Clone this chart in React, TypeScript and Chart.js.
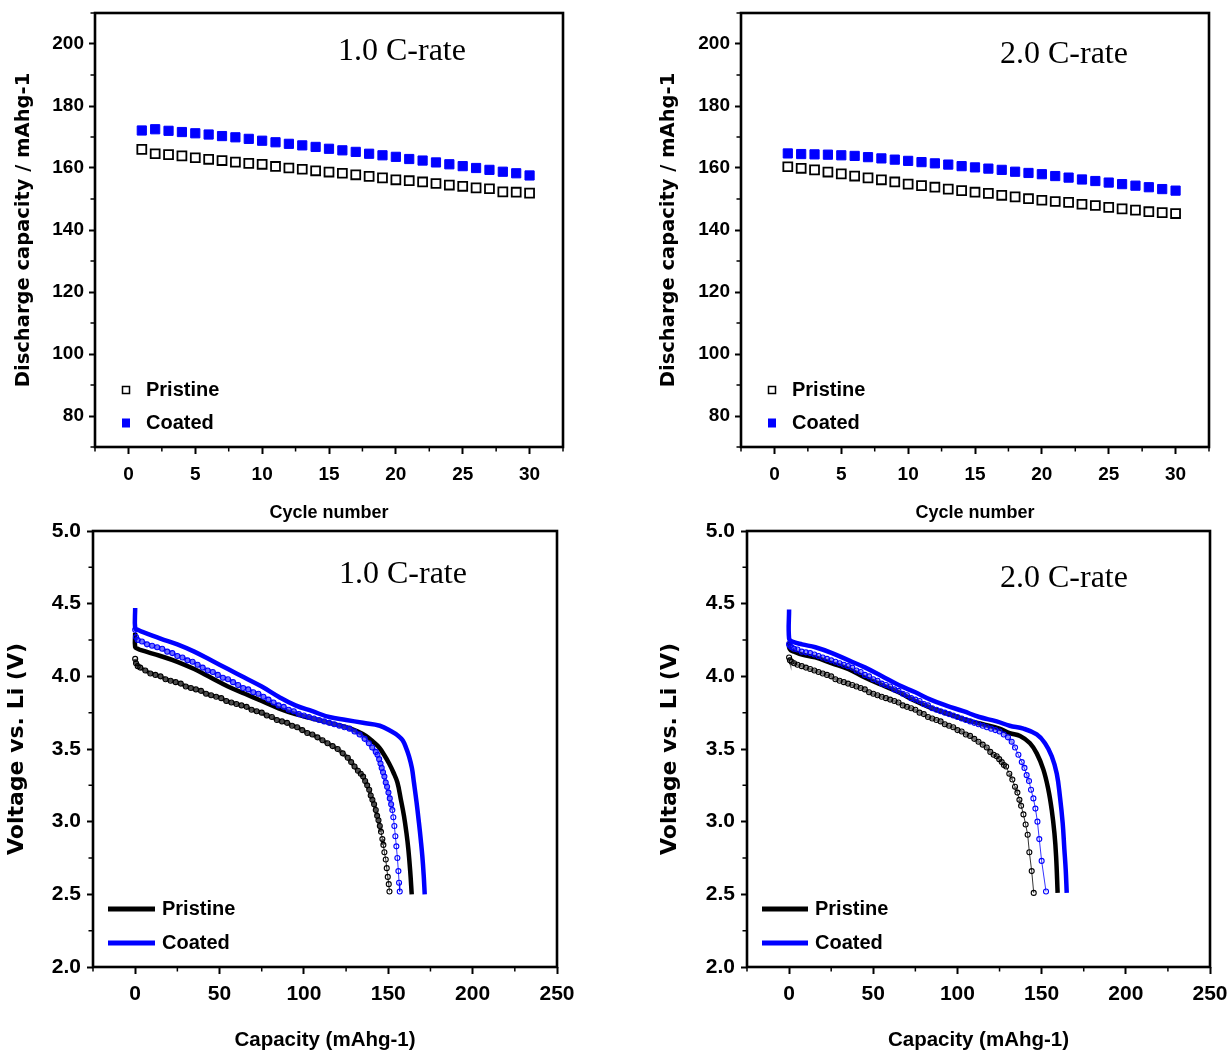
import React, { useEffect, useRef } from 'react';
import { Chart, registerables } from 'chart.js';

Chart.register(...registerables);

// ---------- Data: cycling (top panels) ----------
const cycles = [1, 2, 3, 4, 5, 6, 7, 8, 9, 10, 11, 12, 13, 14, 15, 16, 17, 18, 19, 20, 21, 22, 23, 24, 25, 26, 27, 28, 29, 30];

const pristine1C = [166.0, 164.6, 164.3, 163.9, 163.3, 162.8, 162.4, 161.9, 161.5, 161.2, 160.5, 160.0, 159.6, 159.1, 158.7, 158.3, 157.8, 157.3, 156.8, 156.2, 155.9, 155.5, 155.0, 154.5, 154.1, 153.6, 153.3, 152.3, 152.2, 151.9];
const coated1C = [172.1, 172.5, 172.0, 171.6, 171.2, 170.8, 170.3, 169.9, 169.4, 168.8, 168.3, 167.8, 167.3, 166.8, 166.2, 165.7, 165.2, 164.6, 164.1, 163.6, 162.9, 162.4, 161.8, 161.2, 160.6, 160.0, 159.4, 158.8, 158.3, 157.6];
const pristine2C = [160.4, 159.9, 159.4, 158.7, 158.1, 157.4, 156.8, 156.2, 155.5, 154.8, 154.3, 153.8, 153.2, 152.7, 152.2, 151.8, 151.2, 150.7, 150.1, 149.6, 149.2, 148.9, 148.3, 147.9, 147.3, 146.8, 146.4, 145.9, 145.6, 145.3];
const coated2C = [164.7, 164.5, 164.4, 164.3, 164.1, 163.9, 163.5, 163.1, 162.7, 162.3, 161.9, 161.5, 161.1, 160.6, 160.2, 159.8, 159.4, 158.8, 158.4, 158.0, 157.4, 156.9, 156.3, 155.8, 155.3, 154.8, 154.3, 153.8, 153.2, 152.7];

// ---------- Data: discharge curves (bottom panels), [capacity, voltage] ----------
const pristineLine1C: [number, number][] = [[0, 4.30], [0, 4.20], [1.5, 4.19], [3.5, 4.18], [15, 4.14], [25, 4.10], [35, 4.05], [45, 3.99], [55, 3.93], [65, 3.88], [75, 3.83], [85, 3.78], [95, 3.74], [105, 3.71], [115, 3.68], [125, 3.65], [132, 3.62], [136.7, 3.59], [141, 3.55], [144.6, 3.51], [147.5, 3.46], [150.5, 3.40], [153, 3.34], [155.4, 3.27], [157.5, 3.15], [159.3, 3.04], [160.8, 2.92], [161.9, 2.81], [163, 2.66], [163.9, 2.50]];
const coatedLine1C: [number, number][] = [[0, 4.47], [0, 4.33], [1.5, 4.32], [3.5, 4.31], [15, 4.26], [25, 4.22], [35, 4.17], [45, 4.11], [55, 4.05], [65, 3.99], [75, 3.93], [85, 3.86], [95, 3.80], [105, 3.76], [115, 3.72], [125, 3.70], [135, 3.68], [145, 3.66], [152, 3.62], [156, 3.59], [158.5, 3.56], [160.5, 3.51], [162.3, 3.45], [164, 3.37], [165.2, 3.27], [166.8, 3.13], [168.2, 2.99], [169.3, 2.87], [170.2, 2.76], [171, 2.63], [171.6, 2.50]];
const pristineDots1C: [number, number][] = [[0, 4.12], [0.5, 4.09], [1.5, 4.07], [3, 4.06], [6, 4.04], [9, 4.02], [12, 4.01], [15, 4.00], [18, 3.98], [21, 3.97], [24, 3.96], [27, 3.95], [30, 3.93], [33, 3.92], [36, 3.91], [39, 3.90], [42, 3.88], [45, 3.87], [48, 3.86], [51, 3.85], [54, 3.83], [57, 3.82], [60, 3.81], [63, 3.80], [66, 3.79], [69, 3.77], [72, 3.76], [75, 3.75], [78, 3.73], [81, 3.72], [84, 3.70], [87, 3.69], [90, 3.68], [93, 3.66], [96, 3.65], [99, 3.63], [102, 3.61], [105, 3.60], [108, 3.58], [111, 3.56], [114, 3.54], [117, 3.52], [120, 3.50], [123, 3.47], [126, 3.44], [128, 3.41], [130, 3.38], [132, 3.35], [133.7, 3.33], [135.1, 3.31], [136.3, 3.28], [137.5, 3.25], [138.7, 3.22], [139.6, 3.18], [140.6, 3.15], [141.6, 3.12], [142.6, 3.08], [143.4, 3.04], [144.2, 3.01], [145.0, 2.97], [145.7, 2.93], [146.5, 2.88], [147.1, 2.84], [147.7, 2.79], [148.5, 2.74], [149.1, 2.68], [149.7, 2.62], [150.3, 2.57], [150.7, 2.52]];
const coatedDots1C: [number, number][] = [[0, 4.32], [0.5, 4.27], [1.5, 4.25], [4, 4.24], [7, 4.22], [10, 4.21], [13, 4.20], [16, 4.19], [19, 4.17], [22, 4.16], [25, 4.14], [28, 4.13], [31, 4.11], [34, 4.10], [37, 4.08], [40, 4.06], [43, 4.04], [46, 4.03], [49, 4.01], [52, 3.99], [55, 3.98], [58, 3.96], [61, 3.94], [64, 3.92], [67, 3.91], [70, 3.89], [73, 3.88], [76, 3.86], [79, 3.84], [82, 3.82], [85, 3.80], [88, 3.79], [91, 3.77], [94, 3.76], [97, 3.74], [100, 3.73], [103, 3.72], [106, 3.71], [109, 3.70], [112, 3.69], [115, 3.68], [118, 3.67], [121, 3.66], [124, 3.65], [127, 3.64], [130, 3.62], [133, 3.60], [136, 3.57], [138.5, 3.54], [140.5, 3.51], [142.6, 3.48], [143.6, 3.46], [144.6, 3.43], [145.4, 3.40], [146.1, 3.37], [146.9, 3.34], [147.7, 3.31], [148.5, 3.27], [149.3, 3.24], [150.1, 3.20], [150.9, 3.16], [151.7, 3.12], [152.4, 3.08], [153.0, 3.03], [153.6, 2.97], [154.2, 2.90], [154.8, 2.83], [155.4, 2.75], [156.0, 2.66], [156.4, 2.58], [156.8, 2.52]];

const pristineLine2C: [number, number][] = [[0, 4.24], [0, 4.20], [1, 4.18], [3, 4.17], [7.7, 4.15], [15.6, 4.13], [25.5, 4.09], [35.4, 4.05], [45.3, 3.99], [55.2, 3.94], [65.1, 3.89], [75, 3.83], [84.9, 3.78], [95, 3.74], [105, 3.70], [115, 3.67], [125, 3.64], [131, 3.61], [137.2, 3.59], [143.1, 3.54], [147.1, 3.47], [151, 3.36], [154, 3.22], [156, 3.08], [157.6, 2.92], [158.6, 2.76], [159.5, 2.51]];
const coatedLine2C: [number, number][] = [[0, 4.46], [0, 4.26], [1.8, 4.24], [7.7, 4.22], [15.6, 4.20], [25.5, 4.16], [35.4, 4.11], [45.3, 4.06], [55.2, 4.00], [65.1, 3.94], [75, 3.89], [84, 3.84], [93, 3.80], [103.5, 3.76], [113, 3.72], [123.3, 3.69], [131, 3.66], [139.2, 3.64], [147.1, 3.60], [152, 3.54], [156, 3.45], [159, 3.33], [160.9, 3.17], [162.5, 2.99], [163.5, 2.81], [164.3, 2.67], [164.9, 2.51]];
const pristineDots2C: [number, number][] = [[0, 4.13], [0.5, 4.11], [1.5, 4.10], [3, 4.09], [5, 4.08], [7.5, 4.07], [10, 4.06], [12.5, 4.05], [15, 4.04], [17.5, 4.03], [20, 4.02], [22.5, 4.01], [25, 4.00], [27.5, 3.98], [30, 3.97], [32.5, 3.96], [35, 3.95], [37.5, 3.94], [40, 3.93], [42.5, 3.92], [45, 3.91], [47.5, 3.89], [50, 3.88], [52.5, 3.87], [55, 3.86], [57.5, 3.85], [60, 3.84], [62.5, 3.83], [65, 3.82], [67.5, 3.80], [70, 3.79], [72.5, 3.78], [75, 3.77], [77.5, 3.75], [80, 3.74], [82.5, 3.72], [85, 3.71], [87.5, 3.70], [90, 3.69], [92.5, 3.67], [95, 3.66], [97.5, 3.65], [100, 3.63], [102.5, 3.62], [105, 3.60], [107.5, 3.59], [110, 3.57], [112.5, 3.55], [115, 3.53], [117.4, 3.51], [119.5, 3.48], [121.5, 3.46], [123.3, 3.45], [124.8, 3.43], [126.3, 3.41], [127.6, 3.39], [128.9, 3.38], [130.8, 3.33], [132.6, 3.29], [134.2, 3.24], [135.6, 3.20], [136.8, 3.15], [137.8, 3.11], [139.2, 3.05], [140.5, 2.98], [141.7, 2.91], [142.7, 2.79], [144.1, 2.66], [145.3, 2.51]];
const coatedDots2C: [number, number][] = [[0, 4.22], [0.5, 4.21], [1.5, 4.20], [3, 4.19], [5, 4.185], [7.5, 4.17], [10, 4.165], [12.5, 4.16], [15, 4.15], [17.5, 4.14], [20, 4.13], [22.5, 4.12], [25, 4.11], [27.5, 4.10], [30, 4.09], [32.5, 4.08], [35, 4.07], [37.5, 4.06], [40, 4.04], [42.5, 4.03], [45, 4.01], [47.5, 4.00], [50, 3.98], [52.5, 3.97], [55, 3.95], [57.5, 3.94], [60, 3.93], [62.5, 3.91], [65, 3.90], [67.5, 3.88], [70, 3.87], [72.5, 3.85], [75, 3.84], [77.5, 3.83], [80, 3.81], [82.5, 3.80], [85, 3.78], [87.5, 3.77], [90, 3.76], [92.5, 3.75], [95, 3.74], [97.5, 3.73], [100, 3.72], [102.5, 3.71], [105, 3.70], [107.5, 3.69], [110, 3.68], [112.5, 3.67], [115, 3.66], [117.5, 3.65], [120, 3.64], [122.5, 3.63], [125, 3.62], [127.5, 3.60], [130, 3.58], [132.2, 3.55], [134.2, 3.51], [136.2, 3.46], [138.2, 3.41], [139.8, 3.37], [141.1, 3.32], [142.5, 3.28], [143.7, 3.22], [145.1, 3.16], [146.3, 3.09], [147.5, 3.00], [148.6, 2.88], [150.0, 2.73], [152.6, 2.52]];

// ---------- Axis ticks ----------
const cycleMajor = [0, 5, 10, 15, 20, 25, 30];
const cycleMinor = [-2.5, 2.5, 7.5, 12.5, 17.5, 22.5, 27.5, 32.5];
const capMajor = [80, 100, 120, 140, 160, 180, 200];
const capMinor = [70, 90, 110, 130, 150, 170, 190, 210];
const capacityMajor = [0, 50, 100, 150, 200, 250];
const capacityMinor = [-25, 25, 75, 125, 175, 225];
const voltMajor = [2.0, 2.5, 3.0, 3.5, 4.0, 4.5, 5.0];
const voltMinor = [2.25, 2.75, 3.25, 3.75, 4.25, 4.75];

const BLUE = '#0000ff';
const ARIAL = "'Liberation Sans', Arial, sans-serif";
const WIDE = "'DejaVu Sans', Verdana, sans-serif";
const SERIF = "'Liberation Serif', 'Times New Roman', serif";

const pts = (xs: number[], ys: number[]) => xs.map((x, i) => ({ x, y: ys[i] }));
const pairs = (p: [number, number][]) => p.map(([x, y]) => ({ x, y }));

type Area = { left: number; top: number; right: number; bottom: number };
type Spec = {
  left: number; top: number; w: number; h: number; area: Area;
  datasets: any[];
  xMin: number; xMax: number; xMajor: number[]; xMinor: number[];
  yMin: number; yMax: number; yMajor: number[]; yMinor: number[]; yDec: number;
  tickSize: number; xTickPad: number; yTickPad: number;
  xTitle: string; xTitleSize: number; xTitlePad: number;
  yTitle: string; yTitleSize: number; yTitlePad: number;
  rate: string; rateX: number; rateY: number;
  legend: { kind: 'square' | 'line'; x: number; textX: number; y1: number; y2: number; x2?: number };
};

function decorPlugin(spec: Spec) {
  return {
    id: 'decor',
    afterDraw(chart: any) {
      const { ctx, chartArea: a, scales } = chart;
      const xs = scales.x, ys = scales.y;
      ctx.save();
      ctx.strokeStyle = '#000';
      ctx.lineWidth = 1.5;
      ctx.beginPath();
      spec.xMinor.forEach((v) => { const p = xs.getPixelForValue(v); ctx.moveTo(p, a.bottom); ctx.lineTo(p, a.bottom + 4.5); });
      spec.yMinor.forEach((v) => { const p = ys.getPixelForValue(v); ctx.moveTo(a.left, p); ctx.lineTo(a.left - 4.5, p); });
      ctx.stroke();
      ctx.lineWidth = 2.6;
      ctx.strokeRect(a.left, a.top, a.right - a.left, a.bottom - a.top);
      ctx.fillStyle = '#000';
      ctx.font = `32px ${SERIF}`;
      ctx.textAlign = 'left';
      ctx.textBaseline = 'alphabetic';
      ctx.fillText(spec.rate, spec.rateX, spec.rateY);
      const lg = spec.legend;
      if (lg.kind === 'square') {
        ctx.lineWidth = 1.5;
        ctx.strokeStyle = '#000';
        ctx.strokeRect(lg.x - 3.5, lg.y1 - 3.5, 7, 7);
        ctx.fillStyle = BLUE;
        ctx.fillRect(lg.x - 4, lg.y2 - 4.5, 8, 9);
      } else {
        ctx.lineWidth = 5;
        ctx.strokeStyle = '#000';
        ctx.beginPath(); ctx.moveTo(lg.x, lg.y1); ctx.lineTo(lg.x2 as number, lg.y1); ctx.stroke();
        ctx.strokeStyle = BLUE;
        ctx.beginPath(); ctx.moveTo(lg.x, lg.y2); ctx.lineTo(lg.x2 as number, lg.y2); ctx.stroke();
      }
      ctx.fillStyle = '#000';
      ctx.font = `bold 20px ${ARIAL}`;
      ctx.textBaseline = 'middle';
      ctx.fillText('Pristine', lg.textX, lg.y1);
      ctx.fillText('Coated', lg.textX, lg.y2);
      ctx.restore();
    },
  };
}

function buildConfig(spec: Spec): any {
  const { area, w, h } = spec;
  const tickFont = { family: ARIAL, size: spec.tickSize, weight: 'bold' as const };
  return {
    type: 'scatter',
    data: { datasets: spec.datasets },
    options: {
      animation: false,
      responsive: false,
      maintainAspectRatio: false,
      events: [],
      layout: { padding: { left: 0, top: area.top, right: w - area.right, bottom: 0 } },
      plugins: { legend: { display: false }, tooltip: { enabled: false }, title: { display: false } },
      scales: {
        x: {
          type: 'linear',
          min: spec.xMin,
          max: spec.xMax,
          afterBuildTicks: (s: any) => { s.ticks = spec.xMajor.map((v) => ({ value: v })); },
          afterFit: (s: any) => { s.height = h - area.bottom; s.paddingLeft = 0; s.paddingRight = 0; },
          border: { display: false },
          grid: { display: true, drawOnChartArea: false, drawTicks: true, tickLength: 7, tickWidth: 2, tickColor: '#000', color: '#000' },
          ticks: { color: '#000', padding: spec.xTickPad, font: tickFont, maxRotation: 0, autoSkip: false, callback: (v: any) => String(v) },
          title: { display: true, text: spec.xTitle, color: '#000', font: { family: ARIAL, size: spec.xTitleSize, weight: 'bold' }, padding: { top: 0, bottom: spec.xTitlePad } },
        },
        y: {
          type: 'linear',
          min: spec.yMin,
          max: spec.yMax,
          afterBuildTicks: (s: any) => { s.ticks = spec.yMajor.map((v) => ({ value: v })); },
          afterFit: (s: any) => { s.width = area.left; s.paddingTop = 0; s.paddingBottom = 0; },
          border: { display: false },
          grid: { display: true, drawOnChartArea: false, drawTicks: true, tickLength: 6, tickWidth: 2, tickColor: '#000', color: '#000' },
          ticks: { color: '#000', padding: spec.yTickPad, font: tickFont, autoSkip: false, callback: (v: any) => Number(v).toFixed(spec.yDec) },
          title: { display: true, text: spec.yTitle, color: '#000', font: { family: WIDE, size: spec.yTitleSize, weight: 'bold' }, padding: { top: spec.yTitlePad, bottom: 0 } },
        },
      },
    },
    plugins: [decorPlugin(spec)],
  };
}

const squareSets = (pristine: number[], coated: number[]) => [
  { label: 'Pristine', data: pts(cycles, pristine), showLine: false, pointStyle: 'rect', pointRadius: 6.3, pointBorderWidth: 1.8, pointBorderColor: '#000', pointBackgroundColor: '#fff' },
  { label: 'Coated', data: pts(cycles, coated), showLine: false, pointStyle: 'rect', pointRadius: 6.5, pointBorderWidth: 1, pointBorderColor: BLUE, pointBackgroundColor: BLUE },
];

// dense stretches of the dotted curves (overlapping circles) drawn as a band, sparse stretches as a thin link
const isDense = (c: any) => Math.hypot(c.p1.x - c.p0.x, c.p1.y - c.p0.y) < 7;
const bandWidth = (band: number) => (c: any) => (isDense(c) ? band : 0.8);
const bandColor = (dense: string, sparse: string) => (c: any) => (isDense(c) ? dense : sparse);

const curveSets = (pl: [number, number][], cl: [number, number][], pd: [number, number][], cd: [number, number][], band: number, alpha: number) => [
  {
    label: 'Coated (dots)', order: 0, data: pairs(cd), showLine: true, borderColor: BLUE, borderWidth: 0.8,
    segment: { borderWidth: bandWidth(band), borderColor: bandColor(`rgba(50,50,255,${alpha})`, BLUE) },
    pointStyle: 'circle', pointRadius: 2.5, pointBorderWidth: 1.1, pointBorderColor: BLUE, pointBackgroundColor: 'rgba(255,255,255,0)',
  },
  {
    label: 'Pristine (dots)', order: 1, data: pairs(pd), showLine: true, borderColor: '#000', borderWidth: 0.8,
    segment: { borderWidth: bandWidth(band), borderColor: bandColor(`rgba(0,0,0,${alpha})`, '#000') },
    pointStyle: 'circle', pointRadius: 2.5, pointBorderWidth: 1.1, pointBorderColor: '#000', pointBackgroundColor: 'rgba(255,255,255,0)',
  },
  { label: 'Coated', order: 2, data: pairs(cl), showLine: true, borderColor: BLUE, borderWidth: 4.5, tension: 0.4, pointRadius: 0, borderCapStyle: 'butt', borderJoinStyle: 'round' },
  { label: 'Pristine', order: 3, data: pairs(pl), showLine: true, borderColor: '#000', borderWidth: 4.5, tension: 0.4, pointRadius: 0, borderCapStyle: 'butt', borderJoinStyle: 'round' },
];

const topCommon = {
  w: 615, h: 526,
  xMin: -2.5, xMax: 32.5, xMajor: cycleMajor, xMinor: cycleMinor,
  yMin: 70, yMax: 210, yMajor: capMajor, yMinor: capMinor, yDec: 0,
  tickSize: 19, xTickPad: 9, yTickPad: 5,
  xTitle: 'Cycle number', xTitleSize: 18, xTitlePad: 2,
  yTitle: 'Discharge capacity / mAhg-1', yTitleSize: 19.5,
};
const bottomCommon = {
  w: 615, h: 534,
  xMin: -25, xMax: 250, xMajor: capacityMajor, xMinor: capacityMinor,
  yMin: 2.0, yMax: 5.0, yMajor: voltMajor, yMinor: voltMinor, yDec: 1,
  tickSize: 21, xTickPad: 8, yTickPad: 6,
  xTitle: 'Capacity (mAhg-1)', xTitleSize: 20.5, xTitlePad: 1,
  yTitle: 'Voltage vs. Li (V)', yTitleSize: 22,
};

const specs: Spec[] = [
  {
    ...topCommon, left: 0, top: 0, area: { left: 95, top: 13, right: 563, bottom: 447 }, yTitlePad: 12,
    datasets: squareSets(pristine1C, coated1C),
    rate: '1.0 C-rate', rateX: 338, rateY: 60,
    legend: { kind: 'square', x: 126, textX: 146, y1: 390, y2: 423 },
  },
  {
    ...topCommon, left: 615, top: 0, area: { left: 126, top: 13, right: 594, bottom: 447 }, yTitlePad: 42,
    datasets: squareSets(pristine2C, coated2C),
    rate: '2.0 C-rate', rateX: 385, rateY: 63,
    legend: { kind: 'square', x: 157, textX: 177, y1: 390, y2: 423 },
  },
  {
    ...bottomCommon, left: 0, top: 520, area: { left: 93, top: 11, right: 557, bottom: 447 }, yTitlePad: 4,
    datasets: curveSets(pristineLine1C, coatedLine1C, pristineDots1C, coatedDots1C, 4, 0.7),
    rate: '1.0 C-rate', rateX: 339, rateY: 63,
    legend: { kind: 'line', x: 108, x2: 155, textX: 162, y1: 389, y2: 423 },
  },
  {
    ...bottomCommon, left: 615, top: 520, area: { left: 132, top: 11, right: 595, bottom: 447 }, yTitlePad: 42,
    datasets: curveSets(pristineLine2C, coatedLine2C, pristineDots2C, coatedDots2C, 3, 0.55),
    rate: '2.0 C-rate', rateX: 385, rateY: 67,
    legend: { kind: 'line', x: 147, x2: 193, textX: 200, y1: 389, y2: 423 },
  },
];

function Panel({ spec }: { spec: Spec }) {
  const ref = useRef<HTMLCanvasElement | null>(null);
  useEffect(() => {
    if (!ref.current) return;
    const chart = new Chart(ref.current, buildConfig(spec));
    return () => chart.destroy();
  }, [spec]);
  return (
    <canvas
      ref={ref}
      width={spec.w}
      height={spec.h}
      style={{ position: 'absolute', left: spec.left, top: spec.top, width: spec.w, height: spec.h }}
    />
  );
}

export default function App() {
  return (
    <div style={{ position: 'absolute', left: 0, top: 0, width: 1230, height: 1054, background: '#fff', overflow: 'hidden' }}>
      {specs.map((s, i) => (
        <Panel key={i} spec={s} />
      ))}
    </div>
  );
}
